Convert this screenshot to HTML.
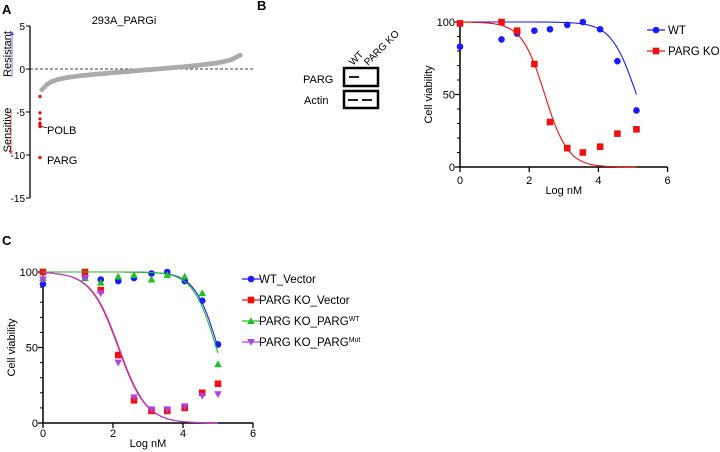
<!DOCTYPE html>
<html><head><meta charset="utf-8"><style>
body{margin:0;background:#fff;}
svg{display:block;font-family:"Liberation Sans",Arial,sans-serif;}
</style></head><body>
<svg id="fig" width="720" height="452" viewBox="0 0 720 452">
<text x="2" y="14" font-size="13" font-weight="bold">A</text>
<text x="257" y="10" font-size="13" font-weight="bold">B</text>
<text x="2" y="245" font-size="13" font-weight="bold">C</text>
<text x="124" y="24" font-size="11" text-anchor="middle">293A_PARGi</text>
<g id="A"></g>
<g id="blot">
  <text x="303" y="83" font-size="11">PARG</text>
  <text x="304" y="104" font-size="11">Actin</text>
  <rect x="344" y="68" width="34" height="18" fill="#fff" stroke="#000" stroke-width="2.5"/>
  <rect x="344" y="91" width="34" height="17" fill="#fff" stroke="#000" stroke-width="2.5"/>
  <rect x="349" y="76" width="10" height="2" fill="#222"/>
  <rect x="348" y="99" width="10" height="2" fill="#222"/>
  <rect x="362" y="99" width="10" height="2" fill="#222"/>
  <text transform="translate(353,66) rotate(-45)" font-size="10">WT</text>
  <text transform="translate(368,66) rotate(-45)" font-size="10">PARG KO</text>
</g>
<g id="B"></g>
<g id="C"></g>
</svg>
<script>
// ---- Panel A data (sorted gene scores) ----
const aGray=[-2.4,-2.1,-1.8,-1.6,-1.45,-1.35,-1.25,-1.18,-1.12,-1.06,-1.0,-0.96,-0.92,-0.88,-0.84,-0.8,-0.77,-0.74,-0.71,-0.68,-0.65,-0.62,-0.6,-0.57,-0.55,-0.52,-0.5,-0.47,-0.45,-0.42,-0.4,-0.37,-0.35,-0.32,-0.3,-0.27,-0.25,-0.22,-0.2,-0.17,-0.15,-0.12,-0.1,-0.08,-0.05,-0.03,0,0.02,0.05,0.07,0.1,0.12,0.15,0.17,0.2,0.22,0.25,0.28,0.3,0.33,0.36,0.39,0.42,0.45,0.48,0.52,0.55,0.59,0.63,0.67,0.72,0.77,0.83,0.9,0.97,1.05,1.15,1.3,1.45,1.6];
const aRed=[-3.2,-5.1,-5.8,-6.3,-6.5,-6.7,-10.3];
const aTicks=[5,0,-5,-10,-15];
// ---- Panel B data ----
const bX=[0,1.2,1.65,2.15,2.6,3.1,3.55,4.05,4.55,5.1];
const bWT=[83,88,92,94,95,98,100,95,73,39];
const bKO=[99,100,94,71,31,13,10,14,23,26];
const bIC50=[5.1,2.45];
const bHill=[1.2,1.3];
// ---- Panel C data ----
const cX=[0,1.2,1.65,2.15,2.6,3.1,3.55,4.05,4.55,5.0];
const cWTV=[92,97,95,94,96,99,100,94,81,52];
const cKOV=[100,100,88,45,15,8,8,10,20,26];
const cWTP=[96,96,93,97,98,95,98,97,86,39];
const cMut=[95,96,86,40,17,9,9,11,18,19];
const cIC50=[5.0,2.15,4.95,2.17];
const cHill=[1.3,1.1,1.3,1.1];
const xTicks=[0,2,4,6];
const yTicks=[0,50,100];

const NS="http://www.w3.org/2000/svg";
function mk(p,t,a){const e=document.createElementNS(NS,t);for(const k in a)e.setAttribute(k,a[k]);p.appendChild(e);return e;}

// Panel A
(function(){
 const g=document.getElementById('A');
 const y=v=>69-v*8.6;
 const x=i=>42+i*(198/(aGray.length-1));
 let ax=mk(g,'line',{x1:30,y1:y(5),x2:30,y2:y(-15),stroke:'#000','stroke-width':1.3});
 
 aTicks.forEach(t=>{
  let l=mk(g,'line',{x1:26,y1:y(t),x2:30,y2:y(t),stroke:'#000'});
  
  let tx=mk(g,'text',{x:25,y:y(t)+4,'font-size':10,'text-anchor':'end'});tx.textContent=t;
  
 });
 let d=mk(g,'line',{x1:30,y1:y(0),x2:253,y2:y(0),stroke:'#000','stroke-dasharray':'3,2','stroke-width':0.8});
 
 aGray.forEach((v,i)=>{let c=mk(g,'circle',{cx:x(i),cy:y(v),r:2.5,fill:'#aaa'});
  });
 aRed.forEach(v=>{let c=mk(g,'circle',{cx:40,cy:y(v),r:1.6,fill:'#e00'});
  });
 let p=mk(g,'path',{d:'M41 '+y(-6.7)+' L47 '+(y(-6.7)+1),stroke:'#000',fill:'none','stroke-width':0.7});
 
 let t1=mk(g,'text',{x:47,y:134,'font-size':11});t1.textContent='POLB';
 
 let t2=mk(g,'text',{x:47,y:164,'font-size':11});t2.textContent='PARG';
 
 let a1=mk(g,'line',{x1:12,y1:77,x2:12,y2:34,stroke:'#44f','stroke-width':0.8});
 
 let h1=mk(g,'path',{d:'M10 35 L12 31 L14 35Z',fill:'#44f'});
 
 let a2=mk(g,'line',{x1:11,y1:110,x2:11,y2:152,stroke:'#f44','stroke-width':0.8});
 
 let h2=mk(g,'path',{d:'M9 151 L11 155 L13 151Z',fill:'#f44'});
 
 let r=mk(g,'text',{transform:'translate(11,54) rotate(-90)','font-size':11,'text-anchor':'middle'});r.textContent='Resistant';
 
 let s=mk(g,'text',{transform:'translate(11,130) rotate(-90)','font-size':11,'text-anchor':'middle'});s.textContent='Sensitive';
 
})();

function marker(g,shape,cx,cy,col){
 let e;
 if(shape==='circle')e=mk(g,'circle',{cx:cx,cy:cy,r:3.3,fill:col});
 else if(shape==='square')e=mk(g,'rect',{x:cx-3.3,y:cy-3.3,width:6.6,height:6.6,fill:col});
 else if(shape==='tri')e=mk(g,'path',{d:`M${cx-3.8} ${cy+3} L${cx} ${cy-3.8} L${cx+3.8} ${cy+3}Z`,fill:col});
 else e=mk(g,'path',{d:`M${cx-3.8} ${cy-3} L${cx} ${cy+3.8} L${cx+3.8} ${cy-3}Z`,fill:col});
 return e;
}
function doseChart(g,o){
 const x=v=>o.x0+v*o.sx, y=v=>o.y0-v*o.sy;
 let ax=mk(g,'path',{d:`M${x(0)} ${y(100)-2} L${x(0)} ${y(0)} L${x(6)} ${y(0)}`,stroke:'#000','stroke-width':1.5,fill:'none'});
 
 yTicks.forEach(t=>{
  let l=mk(g,'line',{x1:x(0)-5,y1:y(t),x2:x(0),y2:y(t),stroke:'#000','stroke-width':1.3});
  
  let tx=mk(g,'text',{x:x(0)-5,y:y(t)+4,'font-size':11,'text-anchor':'end'});tx.textContent=t;
  
 });
 [10,20,30,40,60,70,80,90].forEach(t=>{let l=mk(g,'line',{x1:x(0)-3,y1:y(t),x2:x(0),y2:y(t),stroke:'#000'});
  });
 xTicks.forEach(t=>{
  let l=mk(g,'line',{x1:x(t),y1:y(0),x2:x(t),y2:y(0)+5,stroke:'#000','stroke-width':1.3});
  
  let tx=mk(g,'text',{x:x(t),y:y(0)+o.tko,'font-size':11,'text-anchor':'middle'});tx.textContent=t;
  
 });
 let xl=mk(g,'text',{x:x(3),y:y(0)+o.xlo,'font-size':11,'text-anchor':'middle'});xl.textContent='Log nM';
 
 let yl=mk(g,'text',{transform:`translate(${x(0)-28},${y(50)}) rotate(-90)`,'font-size':11,'text-anchor':'middle'});yl.textContent='Cell viability';
 
 o.series.forEach((s,si)=>{
  let d='';for(let k=0;k<=80;k++){const v=k/80*o.xmax;const f=100/(1+Math.pow(10,(v-s.ic)*s.h));d+=(k?'L':'M')+x(v).toFixed(1)+' '+y(f).toFixed(1);}
  let p=mk(g,'path',{d:d,stroke:s.col,fill:'none','stroke-width':1.1});
  
  s.v.forEach((val,i)=>{let m=marker(g,s.shape,x(o.xs[i]),y(val),s.col);
   });
  const ly=o.ly+si*o.lstep;
  let ll=mk(g,'line',{x1:o.lx,y1:ly,x2:o.lx+18,y2:ly,stroke:s.col,'stroke-width':1.2});
  
  let lm=marker(g,s.shape,o.lx+9,ly,s.col);
  
  let lt=mk(g,'text',{x:o.lx+o.tdx,y:ly+4,'font-size':11.5});lt.textContent=s.label;
  if(s.sup){let ts=mk(lt,'tspan',{'font-size':7,dy:-4});ts.textContent=s.sup;}
  
 });
}
doseChart(document.getElementById('B'),{x0:460,sx:34.6,y0:167,sy:1.45,xmax:5.1,xs:bX,lx:647,ly:30,lstep:21,tdx:21,tko:17,xlo:27,
 series:[{key:'wt',label:'WT',v:bWT,col:'#1a1aff',shape:'circle',ic:bIC50[0],h:bHill[0]},
         {key:'parg-ko',label:'PARG KO',v:bKO,col:'#f01010',shape:'square',ic:bIC50[1],h:bHill[1]}]});
doseChart(document.getElementById('C'),{x0:43,sx:35,y0:423,sy:1.51,xmax:5.0,xs:cX,lx:242,ly:279,lstep:21,tdx:17,tko:14,xlo:24,
 series:[{key:'wt-vector',label:'WT_Vector',v:cWTV,col:'#1a1aff',shape:'circle',ic:cIC50[0],h:cHill[0]},
         {key:'parg-ko-vector',label:'PARG KO_Vector',v:cKOV,col:'#f01010',shape:'square',ic:cIC50[1],h:cHill[1]},
         {key:'parg-ko-parg-wt',label:'PARG KO_PARG',sup:'WT',v:cWTP,col:'#22c022',shape:'tri',ic:cIC50[2],h:cHill[2]},
         {key:'parg-ko-parg-mut',label:'PARG KO_PARG',sup:'Mut',v:cMut,col:'#b040e0',shape:'tri-down',ic:cIC50[3],h:cHill[3]}]});
</script>
</body></html>
